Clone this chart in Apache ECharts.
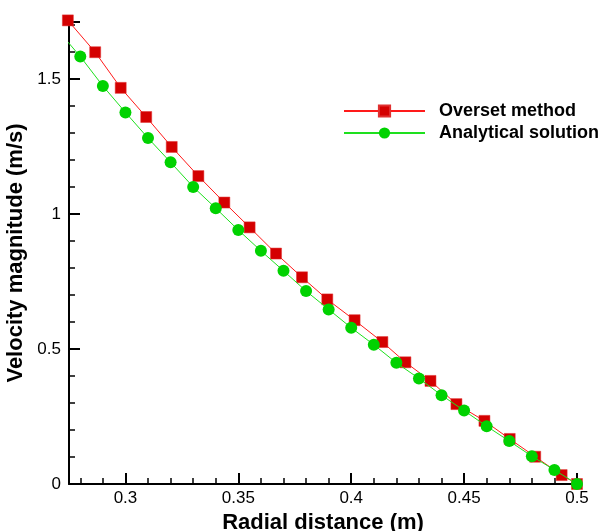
<!DOCTYPE html>
<html>
<head>
<meta charset="utf-8">
<script src="https://cdn.jsdelivr.net/npm/echarts@6/dist/echarts.min.js"></script>
<style>
  html, body { margin: 0; padding: 0; background: #ffffff; }
  #chart { width: 600px; height: 531px; }
</style>
</head>
<body>
<div id="chart"></div>
<script>
// Overset-grid result: radial position (m) and velocity magnitude (m/s)
const oversetX = [0.2745, 0.2866, 0.2979, 0.3092, 0.3205, 0.3323, 0.3438, 0.3550, 0.3667, 0.3782, 0.3894,
                  0.4015, 0.4138, 0.4240, 0.4351, 0.4466, 0.4590, 0.4702, 0.4815, 0.4932, 0.5000];
const oversetV = [1.718, 1.600, 1.468, 1.360, 1.249, 1.141, 1.043, 0.951, 0.854, 0.766, 0.684,
                  0.607, 0.526, 0.451, 0.382, 0.296, 0.234, 0.167, 0.101, 0.033, 0.000];

// Analytical profile sampled every 0.01 m
const analyticX = [0.27, 0.28, 0.29, 0.30, 0.31, 0.32, 0.33, 0.34, 0.35, 0.36, 0.37, 0.38,
                   0.39, 0.40, 0.41, 0.42, 0.43, 0.44, 0.45, 0.46, 0.47, 0.48, 0.49, 0.50];
const analyticV = [1.682, 1.584, 1.475, 1.377, 1.282, 1.192, 1.101, 1.022, 0.941, 0.864, 0.790, 0.715,
                   0.647, 0.579, 0.516, 0.449, 0.391, 0.329, 0.272, 0.214, 0.159, 0.103, 0.052, 0.000];

const seriesNames = ['Overset method', 'Analytical solution'];
const xTitle = 'Radial distance (m)';
const yTitle = 'Velocity magnitude (m/s)';

const FONT = '"Liberation Sans", Arial, Helvetica, sans-serif';

const zip = (xs, ys) => xs.map((x, i) => [x, ys[i]]);

const axisCommon = {
  type: 'value',
  nameLocation: 'middle',
  nameTextStyle: { fontFamily: FONT, fontSize: 22, fontWeight: 'bold', color: '#000' },
  axisLine: { show: true, onZero: false, lineStyle: { color: '#000', width: 2 } },
  axisTick: { show: true, inside: true, length: 11, lineStyle: { color: '#000', width: 2 } },
  minorTick: { show: true, splitNumber: 5, length: 6, lineStyle: { color: '#000', width: 1.5 } },
  splitLine: { show: false },
  minorSplitLine: { show: false }
};

const chart = echarts.init(document.getElementById('chart'), null, { renderer: 'canvas' });

chart.setOption({
  animation: false,
  backgroundColor: '#ffffff',
  grid: { left: 69, right: 23, top: 22, bottom: 47, containLabel: false, outerBoundsMode: 'none' },
  legend: {
    data: seriesNames,
    orient: 'vertical',
    left: 343,
    top: 102,
    padding: 0,
    itemWidth: 81,
    itemHeight: 14,
    itemGap: 4,
    textStyle: { fontFamily: FONT, fontSize: 18, fontWeight: 'bold', color: '#000', lineHeight: 18, padding: [0, 0, 0, 9] }
  },
  xAxis: Object.assign({}, axisCommon, {
    min: 0.275,
    max: 0.5,
    splitNumber: 5,
    name: xTitle,
    nameGap: 26,
    axisLabel: {
      fontFamily: FONT, fontSize: 17, color: '#000', margin: 6,
      showMinLabel: false,
      formatter: v => String(+v.toFixed(3))
    }
  }),
  yAxis: Object.assign({}, axisCommon, {
    min: 0,
    max: 1.712,
    interval: 0.5,
    name: yTitle,
    nameGap: 34,
    axisLabel: {
      fontFamily: FONT, fontSize: 17, color: '#000', margin: 8,
      showMaxLabel: false,
      formatter: v => String(+v.toFixed(3))
    }
  }),
  series: [
    {
      name: seriesNames[0],
      type: 'line',
      data: zip(oversetX, oversetV),
      clip: false,
      symbol: 'rect',
      symbolSize: 11,
      itemStyle: { color: '#d40000', borderColor: '#e03030', borderWidth: 0.5 },
      lineStyle: { color: '#ff1a1a', width: 1 },
      z: 2
    },
    {
      name: seriesNames[1],
      type: 'line',
      data: zip(analyticX, analyticV),
      clip: true,
      symbol: 'circle',
      symbolSize: 12,
      itemStyle: { color: '#00d200' },
      lineStyle: { color: '#1ee01e', width: 1 },
      z: 3
    }
  ]
});
</script>
</body>
</html>
